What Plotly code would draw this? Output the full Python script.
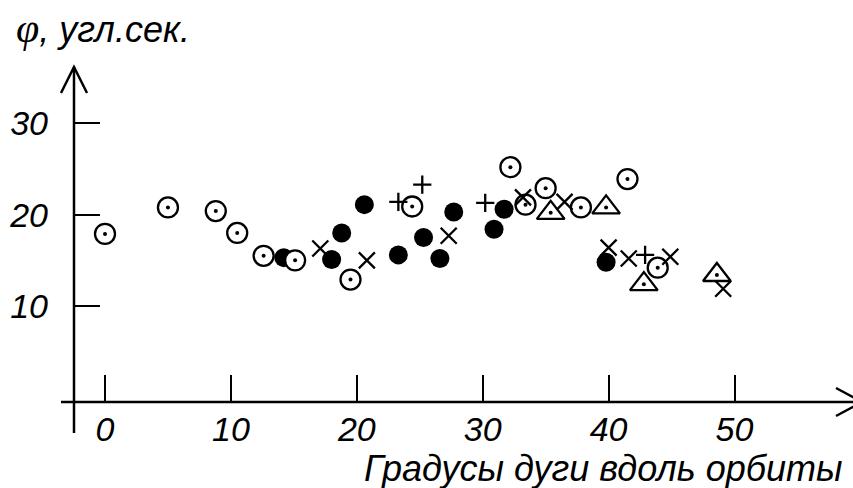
import plotly.graph_objects as go

# Deviation (arcsec) versus arc degrees along the orbit, grouped by series
ring_x = [0.0, 5.0, 8.8, 10.5, 12.6, 15.1, 19.5, 24.4, 32.2, 33.4, 35.0, 37.8, 41.5, 43.9]
ring_y = [17.9, 20.8, 20.4, 18.0, 15.5, 15.0, 12.9, 20.9, 25.2, 21.1, 22.9, 20.8, 23.9, 14.2]
disc_x = [14.2, 18.0, 18.8, 20.6, 23.3, 25.3, 26.6, 27.7, 30.9, 31.7, 39.8]
disc_y = [15.3, 15.1, 18.0, 21.1, 15.6, 17.5, 15.2, 20.3, 18.4, 20.6, 14.8]
cross_x = [17.1, 20.8, 27.3, 33.2, 36.5, 40.0, 41.6, 44.9, 49.1]
cross_y = [16.3, 15.0, 17.7, 21.9, 21.4, 16.4, 15.2, 15.4, 11.9]
plus_x = [23.3, 25.2, 30.2, 42.9]
plus_y = [21.4, 23.3, 21.3, 15.6]
tri_x = [35.4, 39.8, 42.8, 48.6]
tri_y = [20.2, 20.8, 12.4, 13.4]

x_ticks = [0, 10, 20, 30, 40, 50]
y_ticks = [10, 20, 30]

W, H = 853, 488
ML, MR, MT, MB = 73, 2, 67, 86
PW, PH = W - ML - MR, H - MT - MB

def px(xp):
    return (xp - ML) / PW

def py(yp):
    return (H - MB - yp) / PH

FONT = "Liberation Sans, Arial, sans-serif"
BLACK = "#000000"
LW = 2.3

fig = go.Figure()

fig.add_trace(go.Scatter(
    x=disc_x, y=disc_y, mode="markers",
    marker=dict(symbol="circle", size=19, color=BLACK, line=dict(width=0)),
))
fig.add_trace(go.Scatter(
    x=ring_x, y=ring_y, mode="markers",
    marker=dict(symbol="circle", size=20, color="white",
                line=dict(width=LW, color=BLACK)),
))
fig.add_trace(go.Scatter(
    x=tri_x, y=tri_y, mode="markers",
    marker=dict(symbol="triangle-up", size=24, color="white",
                line=dict(width=LW, color=BLACK)),
))
# centre dots of the ringed and triangle symbols
fig.add_trace(go.Scatter(
    x=ring_x + tri_x, y=ring_y + tri_y, mode="markers",
    marker=dict(symbol="circle", size=4, color=BLACK, line=dict(width=0)),
))
fig.add_trace(go.Scatter(
    x=cross_x, y=cross_y, mode="markers",
    marker=dict(symbol="x-thin", size=16, color=BLACK,
                line=dict(width=LW, color=BLACK)),
))
fig.add_trace(go.Scatter(
    x=plus_x, y=plus_y, mode="markers",
    marker=dict(symbol="cross-thin", size=13, color=BLACK,
                line=dict(width=LW, color=BLACK)),
))

# axis lines with open arrowheads
line_style = dict(color=BLACK, width=2.5)
shapes = [
    dict(type="line", xref="paper", yref="paper",
         x0=px(61), y0=py(402), x1=px(862), y1=py(402), line=line_style),
    dict(type="line", xref="paper", yref="paper",
         x0=px(74), y0=py(433), x1=px(74), y1=py(67), line=line_style),
    dict(type="path", xref="paper", yref="paper",
         path=f"M{px(61)},{py(93)} L{px(74)},{py(67)} L{px(87)},{py(93)}",
         line=line_style),
    dict(type="path", xref="paper", yref="paper",
         path=f"M{px(836)},{py(388)} L{px(862)},{py(402)} L{px(836)},{py(416)}",
         line=line_style),
]

tick_font = dict(family=FONT, size=34, color=BLACK, style="italic")
title_font = dict(family=FONT, size=36, color=BLACK, style="italic")

fig.update_layout(
    width=W, height=H,
    margin=dict(l=ML, r=MR, t=MT, b=MB, pad=0),
    paper_bgcolor="white", plot_bgcolor="white",
    showlegend=False,
    shapes=shapes,
    xaxis=dict(
        range=[(ML - 105) / 12.59, (W - MR - 105) / 12.59],
        tickvals=x_ticks, ticktext=[str(v) for v in x_ticks],
        ticks="inside", ticklen=27, tickwidth=2, tickcolor=BLACK,
        showline=False, showgrid=False, zeroline=False,
        tickfont=tick_font, ticklabelstandoff=4,
    ),
    yaxis=dict(
        range=[(397.4 - (H - MB)) / 9.135, (397.4 - MT) / 9.135],
        tickvals=y_ticks, ticktext=[str(v) for v in y_ticks],
        ticks="inside", ticklen=27, tickwidth=2, tickcolor=BLACK,
        showline=False, showgrid=False, zeroline=False,
        tickfont=tick_font, ticklabelstandoff=24,
    ),
    annotations=[
        dict(xref="paper", yref="paper", x=px(14), y=py(28),
             xanchor="left", yanchor="middle", showarrow=False,
             text="<span style='font-family:Liberation Serif;font-size:42px'>φ</span>, угл.сек.",
             font=title_font),
        dict(xref="paper", yref="paper", x=px(844), y=py(468),
             xanchor="right", yanchor="middle", showarrow=False,
             text="Градусы дуги вдоль орбиты",
             font=title_font),
    ],
)

fig.write_html("out.html")
